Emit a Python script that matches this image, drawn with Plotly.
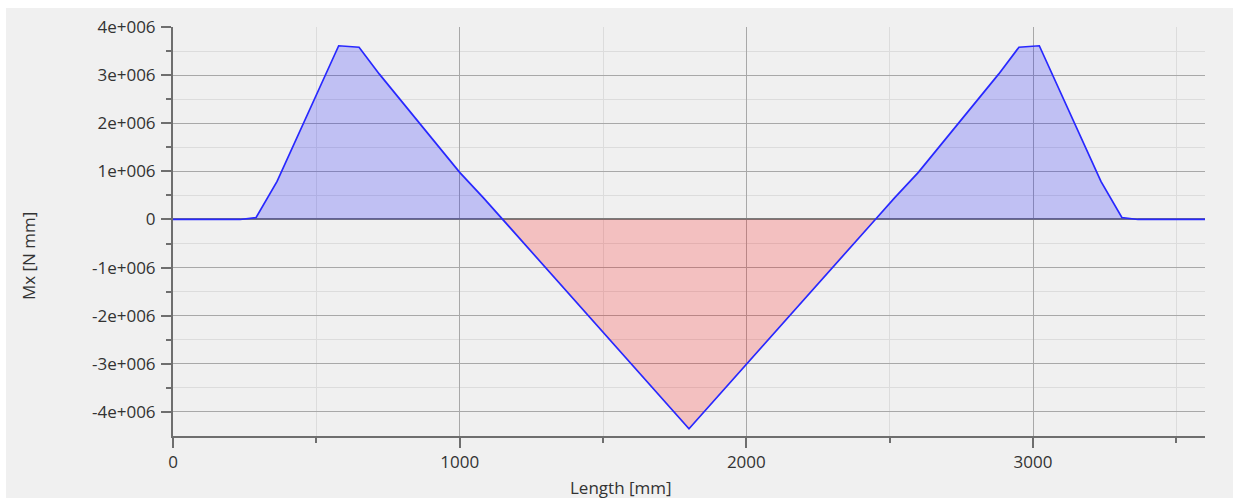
import plotly.graph_objects as go

# Data
length_mm = [0, 234, 290, 363, 578, 649, 720, 1000, 1083, 1150, 1800,
             2450, 2517, 2600, 2880, 2951, 3022, 3237, 3310, 3366, 3600]
mx_nmm = [0, 0, 0.04e6, 0.79e6, 3.61e6, 3.58e6, 3.02e6, 0.98e6, 0.45e6, 0,
          -4.35e6, 0, 0.45e6, 0.98e6, 3.02e6, 3.58e6, 3.61e6, 0.79e6, 0.04e6, 0, 0]

x_tick_vals = [0, 1000, 2000, 3000]
x_tick_text = ["0", "1000", "2000", "3000"]
x_minor_vals = [500, 1500, 2500, 3500]

y_tick_vals = [4e6, 3e6, 2e6, 1e6, 0, -1e6, -2e6, -3e6, -4e6]
y_tick_text = ["4e+006", "3e+006", "2e+006", "1e+006", "0",
               "-1e+006", "-2e+006", "-3e+006", "-4e+006"]
y_minor_vals = [3.5e6, 2.5e6, 1.5e6, 0.5e6, -0.5e6, -1.5e6, -2.5e6, -3.5e6]

pos = [max(v, 0) for v in mx_nmm]
neg = [min(v, 0) for v in mx_nmm]

FONT = "Open Sans"
AX = "#6e6e6e"

fig = go.Figure()
fig.add_trace(go.Scatter(x=length_mm, y=pos, mode="lines", line=dict(width=0),
                         fill="tozeroy", fillcolor="rgba(0,0,255,0.2)",
                         hoverinfo="skip", showlegend=False))
fig.add_trace(go.Scatter(x=length_mm, y=neg, mode="lines", line=dict(width=0),
                         fill="tozeroy", fillcolor="rgba(255,0,0,0.2)",
                         hoverinfo="skip", showlegend=False))
fig.add_trace(go.Scatter(x=length_mm, y=mx_nmm, mode="lines",
                         line=dict(color="rgb(40,40,255)", width=1.7),
                         showlegend=False))

fig.update_layout(
    width=1233, height=498,
    margin=dict(l=173, r=28, t=27, b=62),
    paper_bgcolor="white",
    plot_bgcolor="#f0f0f0",
    font=dict(family=FONT, size=17, color="#333333"),
    shapes=[dict(type="rect", xref="paper", yref="paper",
                 x0=-0.1618, x1=1.05, y0=-0.2, y1=1.0465,
                 fillcolor="#f0f0f0", line=dict(width=0), layer="below")],
    annotations=[
        dict(text="Length [mm]", xref="paper", yref="paper", x=0.434, y=-0.1247,
             xanchor="center", yanchor="middle", showarrow=False,
             font=dict(family=FONT, size=17, color="#333333")),
        dict(text="Mx [N mm]", xref="paper", yref="paper", x=-0.1405, y=0.44,
             xanchor="center", yanchor="middle", showarrow=False, textangle=-90,
             font=dict(family=FONT, size=17, color="#333333")),
    ],
)

fig.update_xaxes(
    range=[0, 3600], tickmode="array", tickvals=x_tick_vals, ticktext=x_tick_text,
    showgrid=True, gridcolor="#a8a8a8", gridwidth=1,
    showline=True, linecolor=AX, linewidth=2,
    ticks="outside", ticklen=10, tickwidth=1.5, tickcolor=AX,
    zeroline=False,
    minor=dict(tickmode="array", tickvals=x_minor_vals, ticks="outside", ticklen=5,
               tickwidth=1.5, tickcolor=AX, showgrid=True, gridcolor="#dcdcdc", gridwidth=1),
    fixedrange=True,
)
fig.update_yaxes(
    range=[-4.5e6, 4e6], tickmode="array", tickvals=y_tick_vals, ticktext=y_tick_text,
    showgrid=True, gridcolor="#a8a8a8", gridwidth=1,
    showline=True, linecolor=AX, linewidth=2,
    ticks="outside", ticklen=10, tickwidth=1.5, tickcolor=AX,
    ticklabelstandoff=2,
    zeroline=True, zerolinecolor="#7a7a7a", zerolinewidth=2,
    minor=dict(tickmode="array", tickvals=y_minor_vals, ticks="outside", ticklen=5,
               tickwidth=1.5, tickcolor=AX, showgrid=True, gridcolor="#dcdcdc", gridwidth=1),
    fixedrange=True,
)

fig.write_html("out.html", config=dict(displayModeBar=False),
               post_script="document.body.style.margin='0';document.body.style.padding='0';")
